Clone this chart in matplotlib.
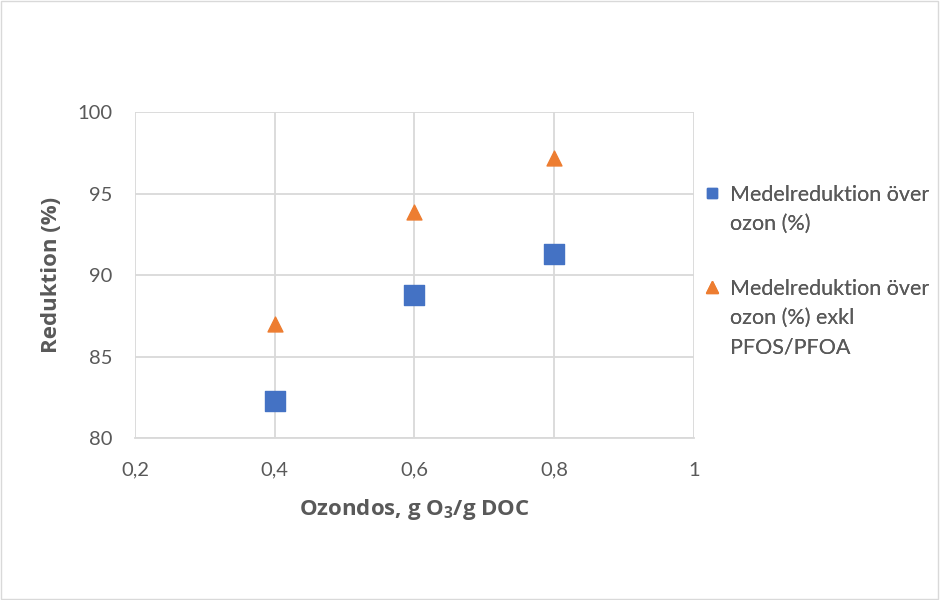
import matplotlib.pyplot as plt
from matplotlib.lines import Line2D

plt.rcParams['font.family'] = ['Lato', 'DejaVu Sans']
plt.rcParams['mathtext.fontset'] = 'custom'
plt.rcParams['mathtext.rm'] = 'Open Sans'
plt.rcParams['mathtext.bf'] = 'Open Sans:bold'

dos = [0.4, 0.6, 0.8]
medel = [82.3, 88.8, 91.3]
medel_exkl = [87.0, 93.85, 97.15]
xticks = [0.2, 0.4, 0.6, 0.8, 1.0]
xticklabels = ['0,2', '0,4', '0,6', '0,8', '1']
yticks = [80, 85, 90, 95, 100]

grey = '#595959'
gridc = '#d9d9d9'

fig = plt.figure(figsize=(9.4, 6), dpi=100)
ax = fig.add_axes([0.1436, 0.27, 0.5947, 0.5433])

ax.scatter(dos, medel, marker='s', s=200, color='#4472c4', zorder=3)
ax.scatter(dos, medel_exkl, marker='^', s=115, color='#ed7d31', zorder=3)

ax.set_xlim(0.2, 1.0)
ax.set_ylim(80, 100)
ax.set_xticks(xticks)
ax.set_xticklabels(xticklabels)
ax.set_yticks(yticks)
ax.grid(True, color=gridc, linewidth=1.3)
ax.set_axisbelow(True)
for s in ['top', 'right', 'left']:
    ax.spines[s].set_visible(False)
ax.spines['bottom'].set_color(gridc)
ax.spines['bottom'].set_linewidth(1.3)
ax.tick_params(length=0, labelsize=14.5, labelcolor=grey)
ax.tick_params(axis='x', pad=17)
ax.tick_params(axis='y', pad=16.5)

# Lato has no bold face here, so the titles use Open Sans
ax.set_xlabel('Ozondos, g O$_\\mathbf{3}$/g DOC', fontsize=16, fontweight='bold',
              family='Open Sans', color=grey)
ax.set_ylabel('Reduktion (%)', fontsize=16, fontweight='bold', family='Open Sans',
              color=grey)
ax.xaxis.set_label_coords(0.5, -0.18)
ax.yaxis.set_label_coords(-0.13, 0.5)

# legend: one block per series, marker on the first line
entries = [
    ('s', '#4472c4', 7.5, ['Medelreduktion över', 'ozon (%)'], 0.692),
    ('^', '#ed7d31', 9, ['Medelreduktion över', 'ozon (%) exkl', 'PFOS/PFOA'], 0.535),
]
for mk, col, ms, lines, ytop in entries:
    hs = [Line2D([], [], marker=mk, linestyle='none', color=col, markersize=ms)]
    hs += [Line2D([], [], linestyle='none')] * (len(lines) - 1)
    leg = fig.legend(hs, lines, loc='upper left', bbox_to_anchor=(0.751, ytop),
                     frameon=False, fontsize=15.5, handlelength=0.55, handletextpad=0.55,
                     labelspacing=0.42, borderpad=0, borderaxespad=0)
    for t in leg.get_texts():
        t.set_color(grey)
    fig.add_artist(leg)

fig.patches.append(plt.Rectangle((0.001, 0.001), 0.997, 0.997, transform=fig.transFigure,
                                 fill=False, edgecolor=gridc, linewidth=1))

fig.savefig('out.png', dpi=100)
